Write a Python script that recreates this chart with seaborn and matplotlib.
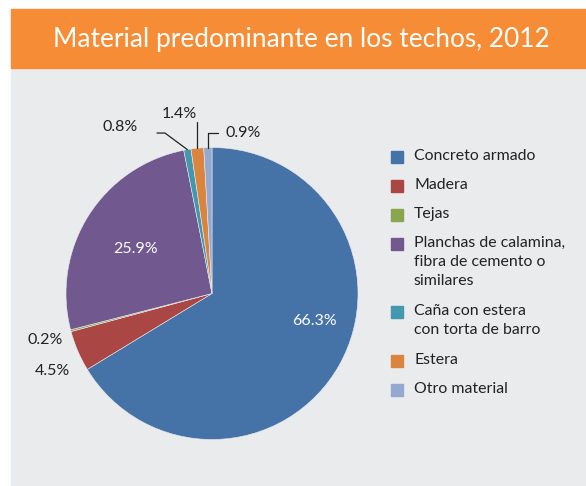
import numpy as np
import matplotlib
matplotlib.use("Agg")
import matplotlib.pyplot as plt
from matplotlib.patches import Rectangle
import seaborn as sns

# datos
materiales = ["Concreto armado", "Madera", "Tejas",
              "Planchas de calamina,\nfibra de cemento o\nsimilares",
              "Caña con estera\ncon torta de barro", "Estera", "Otro material"]
porcentajes = [66.3, 4.5, 0.2, 25.9, 0.8, 1.4, 0.9]
colores = ["#4572A7", "#AA4643", "#89A54E", "#71588F", "#4198AF", "#DB843D", "#93A9CF"]
titulo = "Material predominante en los techos, 2012"

sns.set_style("white")
plt.rcParams['font.family'] = ['Lato', 'DejaVu Sans']

W, H = 586, 486
fig = plt.figure(figsize=(W / 100, H / 100), dpi=100)
fig.patch.set_facecolor("white")

def px(x, y):
    return x / W, 1 - y / H

# banner and panel
fig.patches.append(Rectangle(px(11, 486), (W - 11) / W, (486 - 68) / H,
                             transform=fig.transFigure, color="#EAEBED", zorder=-10))
fig.patches.append(Rectangle(px(11, 68), (W - 11) / W, (68 - 9) / H,
                             transform=fig.transFigure, color="#F68C35", zorder=-10))
fig.text(*px(301, 40), titulo, color="white", fontsize=18.9,
         ha="center", va="center")

# pie
cx, cy, r = 212, 293.5, 146
ax = fig.add_axes([(cx - r) / W, (H - cy - r) / H, 2 * r / W, 2 * r / H])
ax.set_zorder(1)
ax.set_facecolor("none")
wedges, _ = ax.pie(porcentajes, colors=colores, startangle=90, counterclock=False,
                   radius=1, wedgeprops=dict(linewidth=0.4, edgecolor="#EAEBED"))
ax.set_xlim(-1, 1)
ax.set_ylim(-1, 1)
ax.set_aspect("equal")
ax.axis("off")

etiquetas = ["%.1f%%" % p for p in porcentajes]
# text positions (pie units)
pos = [(0.705, -0.19), (-1.096, -0.53), (-1.144, -0.318), (-0.527, 0.305),
       (-0.63, 1.14), (-0.226, 1.23), (0.212, 1.10)]
dentro = [True, False, False, True, False, False, False]
for i, lab in enumerate(etiquetas):
    ax.text(pos[i][0], pos[i][1], lab, ha="center", va="center", fontsize=11.5,
            color="white" if dentro[i] else "#222222", clip_on=False)

# leader lines for the small slices
acum = np.cumsum([0] + porcentajes)
def punto(i):
    a = np.deg2rad(90 - 3.6 * (acum[i] + acum[i + 1]) / 2)
    return np.cos(a), np.sin(a)

x4, y4 = punto(4)
ax.plot([-0.377, -0.322, x4], [1.099, 1.099, y4], color="#222222", lw=0.9, clip_on=False)
x5, y5 = punto(5)
ax.plot([x5, x5], [y5, 1.175], color="#222222", lw=0.9, clip_on=False)
x6, y6 = punto(6)
ax.plot([0.041, x6, x6], [1.099, 1.099, y6], color="#222222", lw=0.9, clip_on=False)

# legend
lineas = [m.count("\n") + 1 for m in materiales]
y = 157
for m, c, n in zip(materiales, colores, lineas):
    fig.patches.append(Rectangle(px(391, y + 6), 12 / W, 12 / H,
                                 transform=fig.transFigure, color=c, zorder=2))
    fig.text(*px(414, y - 8), m, fontsize=11.4, color="#222222", ha="left", va="top",
             linespacing=1.45)
    y += 19.5 * n + 9.5

fig.savefig("out.png", dpi=100)
